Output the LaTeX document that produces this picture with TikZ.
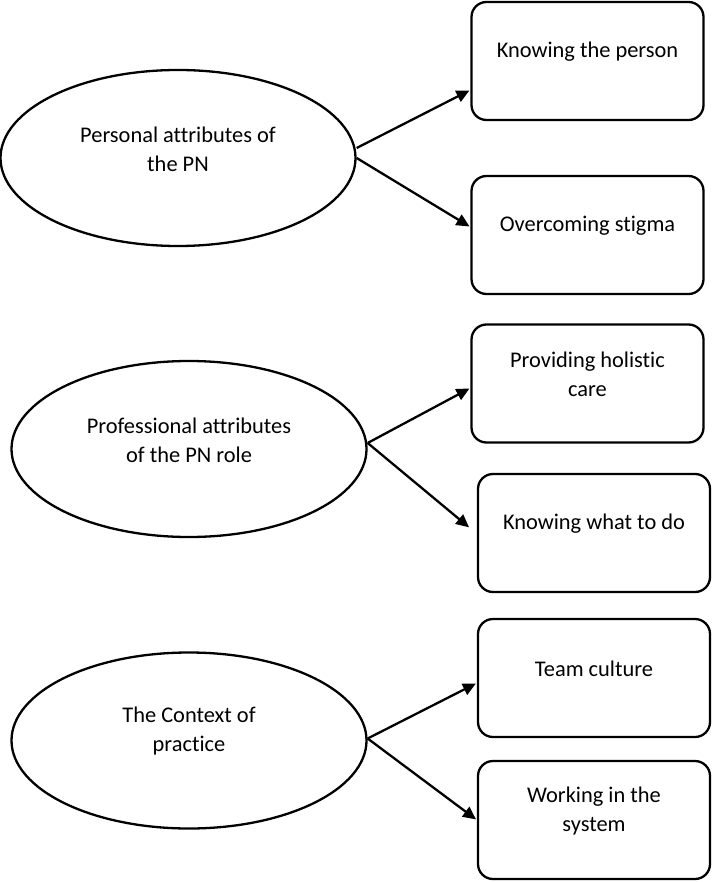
\documentclass[tikz,border=0pt]{standalone}
\usepackage{fontspec}
\setmainfont{Carlito}[Ligatures=NoCommon]
\usetikzlibrary{arrows.meta,shapes.geometric}

\begin{document}
\begin{tikzpicture}[x=1pt,y=-1pt,line width=2.3pt,
  theme/.style={draw,ellipse,minimum width=355pt,minimum height=176pt,inner sep=0pt},
  finding/.style={draw,rounded corners=15pt,minimum width=232pt,minimum height=118pt,inner sep=0pt},
  txt/.style={anchor=center,align=center,yshift=9pt,font=\fontsize{22.4}{29}\selectfont},
  link/.style={-{Triangle[length=13pt,width=12pt]},shorten >=1pt}]
  \useasboundingbox (0,0) rectangle (712,882);

  \node[theme,label={[txt]center:Personal attributes of\\the PN}] (personal) at (178,158) {};
  \node[theme,label={[txt]center:Professional attributes\\of the PN role}] (professional) at (189,449) {};
  \node[theme,label={[txt]center:The Context of\\practice}] (context) at (189,740.5) {};

  \node[finding,label={[txt]center:Knowing the person}] (person) at (587.5,61) {};
  \node[finding,label={[txt]center:Overcoming stigma}] (stigma) at (587.5,235) {};
  \node[finding,label={[txt]center:Providing holistic\\care}] (holistic) at (587.5,383.5) {};
  \node[finding,label={[txt]center:Knowing what to do}] (whattodo) at (594,533) {};
  \node[finding,label={[txt]center:Team culture}] (team) at (594,678) {};
  \node[finding,label={[txt]center:Working in the\\system}] (system) at (594,820) {};

  \draw[link] ([yshift=10pt]personal.east) -- ([yshift=-29pt]person.west);
  \draw[link] (personal.east) -- ([yshift=8pt]stigma.west);
  \draw[link] ([yshift=6pt]professional.east) -- ([yshift=-4.5pt]holistic.west);
  \draw[link] ([yshift=6pt]professional.east) -- ([xshift=-7pt,yshift=5pt]whattodo.west);
  \draw[link] ([yshift=2pt]context.east) -- ([yshift=-5pt]team.west);
  \draw[link] ([yshift=2pt]context.east) -- (system.west);
\end{tikzpicture}
\end{document}
